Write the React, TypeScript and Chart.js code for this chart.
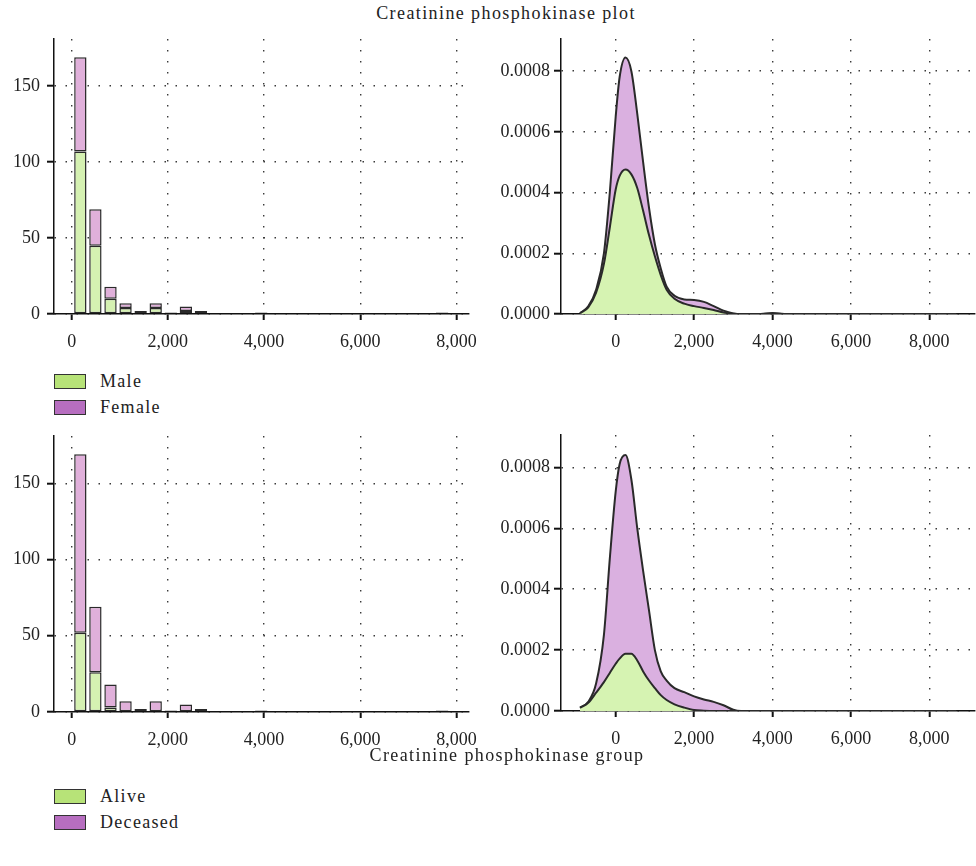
import React, { useEffect, useRef } from "react";
import { Chart, registerables } from "chart.js";

Chart.register(...registerables);

// ---------------- DATA ----------------
const binCenters = [180, 493, 807, 1120, 1434, 1747, 2061, 2374, 2688, 3001, 3315, 3628, 3942, 4255, 4569, 4882, 5196, 5510, 5823, 6137, 6450, 6764, 7077, 7391, 7704];
const maleCounts = [107, 45, 10, 4, 2, 4, 1, 2, 2, 0, 0, 0, 1, 0, 0, 0, 0, 0, 0, 0, 0, 0, 0, 0, 1];
const femaleCounts = [62, 24, 8, 3, 0, 3, 0, 3, 0, 0, 0, 0, 0, 0, 0, 0, 0, 0, 0, 0, 0, 0, 0, 0, 0];
const aliveCounts = [52, 26, 3, 0, 0, 0, 0, 0, 0, 0, 0, 0, 0, 0, 0, 0, 0, 0, 0, 0, 0, 0, 0, 0, 0];
const deceasedCounts = [117, 43, 15, 7, 2, 7, 1, 5, 2, 0, 0, 0, 1, 0, 0, 0, 0, 0, 0, 0, 0, 0, 0, 0, 1];

const densityX = [-910, -700, -500, -300, -150, 0, 100, 250, 400, 550, 700, 850, 1000, 1150, 1300, 1500, 1750, 2000, 2250, 2500, 2750, 3000, 3200, 3700, 4000, 4300, 5000, 6000, 7000, 8000, 8686];
const maleDensity = [0.000002, 0.000022, 0.00007, 0.000165, 0.000285, 0.00041, 0.000455, 0.000476, 0.00046, 0.000415, 0.00034, 0.00026, 0.00019, 0.000128, 0.00008, 0.00005, 0.000034, 0.000026, 0.00002, 0.000013, 0.000005, 0.000001, 0, 0, 0.000002, 0, 0, 0, 0, 0, 0];
const femaleDensity = [0, 0.000003, 0.00001, 0.000035, 0.000115, 0.00024, 0.000325, 0.000369, 0.00034, 0.000245, 0.00016, 0.00009, 0.00004, 0.000022, 0.00001, 0.00001, 0.000014, 0.00002, 0.00002, 0.000013, 0.000006, 0.000001, 0, 0, 0.000001, 0, 0, 0, 0, 0, 0];
const aliveDensity = [0.00001, 0.000027, 0.00006, 0.000095, 0.000125, 0.000155, 0.000172, 0.000188, 0.000188, 0.000166, 0.00013, 0.0001, 0.000075, 0.000052, 0.000036, 0.000022, 0.000011, 0.000003, 0.000001, 0, 0, 0, 0, 0, 0, 0, 0, 0, 0, 0, 0];
const deceasedDensity = [0.000001, 0.000003, 0.00003, 0.000155, 0.000375, 0.000565, 0.000638, 0.000652, 0.000572, 0.000434, 0.00033, 0.00023, 0.000125, 0.000078, 0.000064, 0.000053, 0.000051, 0.000045, 0.000037, 0.00003, 0.000019, 0.000004, 0, 0, 0, 0, 0, 0, 0, 0, 0];

const histXTicks = [0, 2000, 4000, 6000, 8000];
const histYTicks = [0, 50, 100, 150];
const densXTicks = [0, 2000, 4000, 6000, 8000];
const densYTicks = [0, 0.0002, 0.0004, 0.0006, 0.0008];

const plotTitle = "Creatinine phosphokinase plot";
const groupTitle = "Creatinine phosphokinase group";
const sexLabels = ["Male", "Female"];
const outcomeLabels = ["Alive", "Deceased"];

// ---------------- STYLE ----------------
const FONT = '"Liberation Serif", "Times New Roman", serif';
const HIST_GREEN = "rgb(213,241,178)";
const HIST_PINK = "rgb(224,176,218)";
const DENS_GREEN = "rgb(214,243,178)";
const DENS_PINK = "rgb(218,176,224)";
const LEG_GREEN = "rgb(183,227,120)";
const LEG_PURPLE = "rgb(183,110,192)";
const EDGE = "#2a2a2a";
const TEXT = "#222";

const fmtThousands = (v: number) => String(v).replace(/\B(?=(\d{3})+(?!\d))/g, ",");

function axisCommon(tickValues: number[], fmt: (v: number) => string, tickLen: number, pad: number, size: (s: any) => void) {
  return {
    offset: false,
    afterBuildTicks: (s: any) => {
      s.ticks = tickValues.map((v) => ({ value: v }));
    },
    afterFit: size,
    ticks: {
      font: { family: FONT, size: 18 },
      color: TEXT,
      padding: pad,
      autoSkip: false,
      maxRotation: 0,
      callback: (v: any) => fmt(Number(v)),
    },
    grid: {
      display: true,
      offset: false,
      drawOnChartArea: true,
      drawTicks: true,
      tickLength: tickLen,
      tickWidth: 2,
      tickColor: "#111",
      color: "#3a3a3a",
      lineWidth: 1.4,
    },
    border: { display: true, color: "#111", width: 1.5, dash: [1.5, 9.5] },
  };
}

type Box = { left: number; top: number; width: number; height: number; padTop: number; padRight: number; yWidth: number; xHeight: number };

function HistChart({ box, lower, upper, labels }: { box: Box; lower: number[]; upper: number[]; labels: string[] }) {
  const ref = useRef<HTMLCanvasElement>(null);
  useEffect(() => {
    const chart = new Chart(ref.current as HTMLCanvasElement, {
      type: "bar",
      data: {
        datasets: [
          {
            label: labels[0],
            data: binCenters.map((x, i) => ({ x, y: lower[i] })),
            backgroundColor: HIST_GREEN,
            borderColor: EDGE,
            borderWidth: 1.5,
            borderSkipped: false,
            barPercentage: 0.82,
            categoryPercentage: 1,
          },
          {
            label: labels[1],
            data: binCenters.map((x, i) => ({ x, y: upper[i] })),
            backgroundColor: HIST_PINK,
            borderColor: EDGE,
            borderWidth: 1.5,
            borderSkipped: false,
            barPercentage: 0.82,
            categoryPercentage: 1,
          },
        ],
      } as any,
      options: {
        responsive: false,
        animation: false,
        events: [],
        layout: { padding: { top: box.padTop, right: box.padRight, left: 0, bottom: 0 } },
        plugins: { legend: { display: false }, tooltip: { enabled: false }, title: { display: false } },
        scales: {
          x: {
            type: "linear",
            stacked: true,
            min: -368,
            max: 8260,
            ...axisCommon(histXTicks, fmtThousands, 6, 11, (s: any) => { s.height = box.xHeight; }),
          },
          y: {
            type: "linear",
            stacked: true,
            min: 0,
            max: 181,
            ...axisCommon(histYTicks, (v) => String(v), 7, 7, (s: any) => { s.width = box.yWidth; }),
          },
        } as any,
      },
    });
    return () => chart.destroy();
  }, []);
  return <canvas ref={ref} width={box.width} height={box.height} style={{ position: "absolute", left: box.left, top: box.top, width: box.width, height: box.height }} />;
}

function DensityChart({ box, lower, upper, labels }: { box: Box; lower: number[]; upper: number[]; labels: string[] }) {
  const ref = useRef<HTMLCanvasElement>(null);
  useEffect(() => {
    const chart = new Chart(ref.current as HTMLCanvasElement, {
      type: "line",
      data: {
        datasets: [
          {
            label: labels[0],
            data: densityX.map((x, i) => ({ x, y: lower[i] })),
            backgroundColor: DENS_GREEN,
            borderColor: EDGE,
            borderWidth: 2,
            fill: "origin",
            pointRadius: 0,
            cubicInterpolationMode: "monotone",
          },
          {
            label: labels[1],
            data: densityX.map((x, i) => ({ x, y: upper[i] })),
            backgroundColor: DENS_PINK,
            borderColor: EDGE,
            borderWidth: 2,
            fill: "-1",
            pointRadius: 0,
            cubicInterpolationMode: "monotone",
          },
        ],
      } as any,
      options: {
        responsive: false,
        animation: false,
        events: [],
        layout: { padding: { top: box.padTop, right: box.padRight, left: 0, bottom: 0 } },
        plugins: { legend: { display: false }, tooltip: { enabled: false }, title: { display: false } },
        scales: {
          x: {
            type: "linear",
            min: -1395,
            max: 9166,
            ...axisCommon(densXTicks, fmtThousands, 6, 11, (s: any) => { s.height = box.xHeight; }),
          },
          y: {
            type: "linear",
            stacked: true,
            min: 0,
            max: 0.000906,
            ...axisCommon(densYTicks, (v) => v.toFixed(4), 7, 4, (s: any) => { s.width = box.yWidth; }),
          },
        } as any,
      },
    });
    return () => chart.destroy();
  }, []);
  return <canvas ref={ref} width={box.width} height={box.height} style={{ position: "absolute", left: box.left, top: box.top, width: box.width, height: box.height }} />;
}

function Legend({ top, labels }: { top: number; labels: string[] }) {
  const colors = [LEG_GREEN, LEG_PURPLE];
  return (
    <>
      {labels.map((lab, i) => (
        <div key={lab} style={{ position: "absolute", left: 54, top: top + i * 25.5, height: 15, display: "flex", alignItems: "flex-start" }}>
          <div style={{ width: 30, height: 13, background: colors[i], border: "1px solid #333" }} />
          <div style={{ marginLeft: 14, fontSize: 18, lineHeight: "15px", letterSpacing: 1.3, color: TEXT, fontFamily: FONT }}>{lab}</div>
        </div>
      ))}
    </>
  );
}

export default function App() {
  const tl: Box = { left: 0, top: 0, width: 488, height: 360, padTop: 39, padRight: 12, yWidth: 54, xHeight: 46 };
  const tr: Box = { left: 488, top: 0, width: 488, height: 360, padTop: 39, padRight: 1, yWidth: 73, xHeight: 46 };
  const bl: Box = { left: 0, top: 398, width: 488, height: 360, padTop: 38, padRight: 12, yWidth: 54, xHeight: 46 };
  const br: Box = { left: 488, top: 398, width: 488, height: 360, padTop: 37, padRight: 1, yWidth: 73, xHeight: 47 };
  return (
    <div style={{ position: "absolute", left: 0, top: 0, width: 976, height: 866, background: "#fff", fontFamily: FONT, color: TEXT, overflow: "hidden" }}>
      <div style={{ position: "absolute", left: 306, width: 400, top: 2, textAlign: "center", fontSize: 18, lineHeight: "22px", letterSpacing: 1.4 }}>{plotTitle}</div>
      <HistChart box={tl} lower={maleCounts} upper={femaleCounts} labels={sexLabels} />
      <DensityChart box={tr} lower={maleDensity} upper={femaleDensity} labels={sexLabels} />
      <Legend top={374} labels={sexLabels} />
      <HistChart box={bl} lower={aliveCounts} upper={deceasedCounts} labels={outcomeLabels} />
      <DensityChart box={br} lower={aliveDensity} upper={deceasedDensity} labels={outcomeLabels} />
      <div style={{ position: "absolute", left: 307, width: 400, top: 744, textAlign: "center", fontSize: 18, lineHeight: "22px", letterSpacing: 1.4 }}>{groupTitle}</div>
      <Legend top={789} labels={outcomeLabels} />
    </div>
  );
}
